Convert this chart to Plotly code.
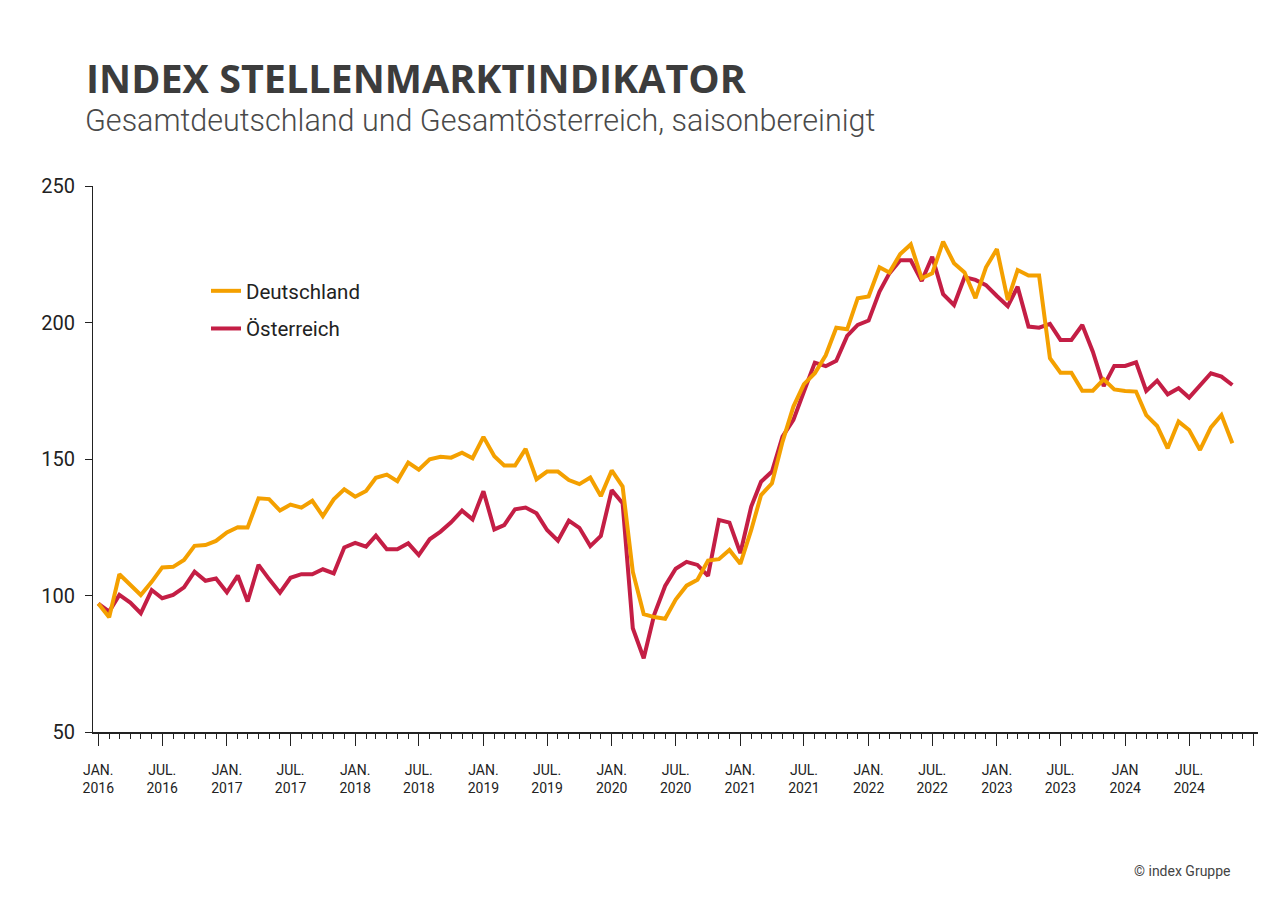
import pandas as pd
import plotly.graph_objects as go

# ---------------- data ----------------
start_month = "2016-01-01"

deutschland = [
    97.1, 92.0, 107.8, 104.0, 100.2, 105.0, 110.3, 110.5, 113.0, 118.2, 118.5, 120.0,
    123.1, 125.0, 124.9, 135.6, 135.3, 131.1, 133.3, 132.2, 134.7, 129.1, 135.2, 138.9,
    136.2, 138.3, 143.1, 144.3, 141.9, 148.7, 146.1, 149.9, 150.8, 150.5, 152.3, 150.3,
    158.1, 151.0, 147.6, 147.6, 153.7, 142.6, 145.4, 145.4, 142.3, 140.8, 143.2, 136.4,
    145.8, 139.9, 108.7, 93.2, 92.1, 91.5, 98.5, 103.6, 105.8, 112.8, 113.3, 116.7,
    111.6, 124.0, 136.8, 141.1, 156.3, 169.2, 177.4, 181.4, 188.0, 198.1, 197.5, 208.9,
    209.5, 220.2, 218.3, 225.1, 228.6, 216.2, 218.0, 229.6, 221.7, 218.3, 208.9, 220.2,
    226.9, 208.2, 219.2, 217.2, 217.2, 186.9, 181.6, 181.6, 175.0, 175.0, 179.2, 175.5,
    174.9, 174.7, 166.1, 162.1, 153.9, 163.7, 160.6, 153.3, 161.6, 166.1, 155.8,
]

oesterreich = [
    97.0, 94.1, 100.2, 97.4, 93.5, 102.0, 99.0, 100.2, 103.0, 108.7, 105.4, 106.2,
    101.2, 107.3, 97.8, 111.2, 106.0, 101.0, 106.5, 107.8, 107.8, 109.6, 108.1, 117.6,
    119.3, 117.9, 121.9, 116.9, 116.9, 119.1, 114.8, 120.6, 123.4, 126.8, 131.1, 127.9,
    138.2, 124.2, 125.8, 131.6, 132.2, 130.1, 124.0, 120.1, 127.4, 124.8, 118.1, 121.8,
    138.6, 133.8, 88.0, 77.0, 93.0, 103.5, 109.8, 112.3, 111.2, 107.2, 127.7, 126.7,
    115.5, 132.6, 141.7, 145.4, 158.2, 164.3, 174.7, 185.3, 184.0, 186.0, 195.1, 199.1,
    200.7, 211.3, 218.0, 222.8, 222.8, 215.2, 224.1, 210.4, 206.4, 216.6, 215.6, 213.7,
    209.7, 206.0, 213.1, 198.5, 198.1, 199.5, 193.6, 193.6, 199.1, 189.3, 176.7, 184.1,
    184.1, 185.4, 174.9, 178.7, 173.7, 175.9, 172.5, 177.1, 181.4, 180.2, 177.1,
]

tick_dates = [
    "2016-01-01", "2016-07-01", "2017-01-01", "2017-07-01", "2018-01-01", "2018-07-01",
    "2019-01-01", "2019-07-01", "2020-01-01", "2020-07-01", "2021-01-01", "2021-07-01",
    "2022-01-01", "2022-07-01", "2023-01-01", "2023-07-01", "2024-01-01", "2024-07-01",
    "2025-01-01",
]
tick_labels = [
    "JAN.<br>2016", "JUL.<br>2016", "JAN.<br>2017", "JUL.<br>2017", "JAN.<br>2018",
    "JUL.<br>2018", "JAN.<br>2019", "JUL.<br>2019", "JAN.<br>2020", "JUL.<br>2020",
    "JAN.<br>2021", "JUL.<br>2021", "JAN.<br>2022", "JUL.<br>2022", "JAN.<br>2023",
    "JUL.<br>2023", "JAN<br>2024", "JUL.<br>2024", "",
]
y_ticks = [50, 100, 150, 200, 250]

months = pd.date_range(start_month, periods=len(deutschland), freq="MS")

ORANGE = "#F4A000"
RED = "#C41E45"
FONT = "Roboto"

fig = go.Figure()
fig.add_trace(go.Scatter(
    x=months, y=oesterreich, mode="lines", name="Österreich",
    line=dict(color=RED, width=4), legendgroup="at", legendrank=2,
))
fig.add_trace(go.Scatter(
    x=months, y=deutschland, mode="lines", name="Deutschland",
    line=dict(color=ORANGE, width=4), legendgroup="de", legendrank=1,
))

fig.update_layout(
    width=1280, height=905,
    margin=dict(l=85, r=30, t=178, b=181, autoexpand=False),
    paper_bgcolor="white", plot_bgcolor="white",
    font=dict(family=FONT, color="#222222"),
    title=dict(
        text="<b>INDEX STELLENMARKTINDIKATOR</b>",
        font=dict(family="Open Sans", size=39.5, color="#3c3c3c"),
        xref="container", yref="container",
        x=78 / 1280, y=1 - 71 / 905, xanchor="left", yanchor="middle",
    ),
    showlegend=True,
    legend=dict(
        traceorder="grouped", tracegroupgap=8,
        font=dict(family=FONT, size=20.5, color="#222222"),
        xref="paper", yref="paper",
        x=(206 - 93) / 1165, y=(732 - 271) / 546, xanchor="left", yanchor="top",
        bgcolor="rgba(0,0,0,0)",
    ),
    hovermode=False,
)

fig.update_xaxes(
    range=["2015-12-17", "2025-01-13"],
    showgrid=False, zeroline=False,
    showline=True, linecolor="#222222", linewidth=1.5,
    tickmode="array", tickvals=tick_dates, ticktext=tick_labels,
    ticks="outside", ticklen=12, tickcolor="#222222", tickwidth=1,
    ticklabelstandoff=12,
    tickfont=dict(family=FONT, size=14, color="#222222"),
    minor=dict(dtick="M1", tick0="2016-01-01", ticks="outside", ticklen=5,
               tickcolor="#222222", tickwidth=1, showgrid=False),
)
fig.update_yaxes(
    range=[50, 250],
    showgrid=False, zeroline=False,
    showline=True, linecolor="#222222", linewidth=1,
    tickmode="array", tickvals=y_ticks,
    ticks="outside", ticklen=7, tickcolor="#222222", tickwidth=1,
    ticklabelstandoff=6,
    tickfont=dict(family=FONT, size=20, color="#222222"),
)

fig.add_annotation(
    text="Gesamtdeutschland und Gesamtösterreich, saisonbereinigt",
    xref="paper", yref="paper", x=(83 - 93) / 1165, y=(732 - 121) / 546,
    xanchor="left", yanchor="middle", showarrow=False,
    font=dict(family=FONT, size=30.5, color="#4a4a4a", weight=300),
)
fig.add_annotation(
    text="© index Gruppe",
    xref="paper", yref="paper", x=(1233 - 93) / 1165, y=(732 - 871) / 546,
    xanchor="right", yanchor="middle", showarrow=False,
    font=dict(family=FONT, size=14, color="#444444"),
)

fig.write_html("out.html")
